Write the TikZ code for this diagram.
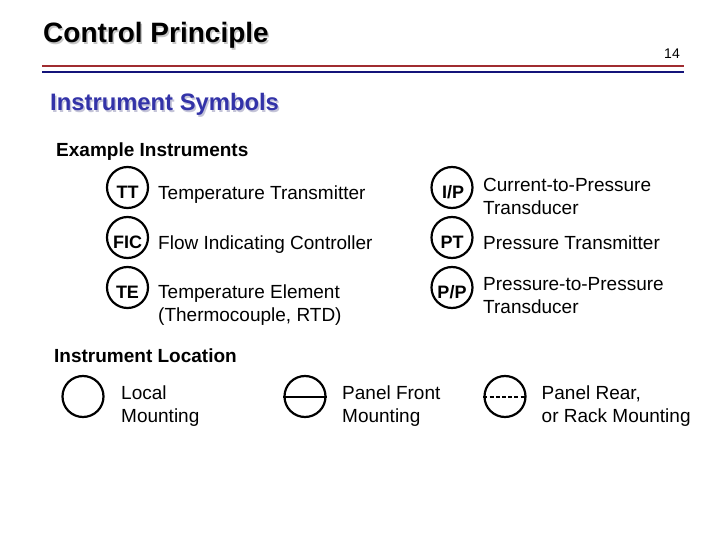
\documentclass[tikz,border=0pt]{standalone}
\usepackage{fontspec}
\setmainfont{Liberation Sans}
\definecolor{rulered}{HTML}{A02C30}
\definecolor{ruleblue}{HTML}{14147A}
\definecolor{headblue}{HTML}{3333A8}
\definecolor{headshadow}{HTML}{C4C4D8}
\tikzset{
  x=1pt,y=-1pt,
  instr/.style={circle,draw=black,line width=2.2pt,minimum size=41pt,inner sep=0pt},
  tagname/.style={inner sep=0pt,yshift=-4.5pt,font=\fontsize{18}{18}\selectfont\bfseries},
  lbl/.style={anchor=west,inner sep=0pt,align=left,font=\fontsize{19}{23}\selectfont},
  sub/.style={anchor=west,inner sep=0pt,font=\fontsize{19}{19}\selectfont\bfseries},
  barline/.style={line width=2pt}
}
\begin{document}
\begin{tikzpicture}
\useasboundingbox (0,0) rectangle (720,540);
% title
\node (titleshadow) [anchor=west,inner sep=0pt,text=gray!45,font=\fontsize{28}{28}\selectfont\bfseries] at (44.5,37) {Control Principle};
\node (title) [anchor=west,inner sep=0pt,font=\fontsize{28}{28}\selectfont\bfseries] at (43,35.5) {Control Principle};
\node (page) [anchor=east,inner sep=0pt,font=\fontsize{14}{14}\selectfont] at (680,54) {14};
\coordinate (ra) at (42,66); \coordinate (rb) at (684,66);
\coordinate (ba) at (42,72); \coordinate (bb) at (684,72);
\draw[rulered,line width=2pt] (ra) -- (rb);
\draw[ruleblue,line width=2pt] (ba) -- (bb);
\node (headshadow) [anchor=west,inner sep=0pt,text=headshadow,font=\fontsize{23.8}{24}\selectfont\bfseries] at (51.5,106) {Instrument Symbols};
\node (head) [anchor=west,inner sep=0pt,text=headblue,font=\fontsize{23.8}{24}\selectfont\bfseries] at (50,104.5) {Instrument Symbols};
\node (ex) [sub] at (56,151.5) {Example Instruments};
% left column
\node (tt) [instr] at (127.5,187.5) {};
\node (fic) [instr] at (127.5,237.5) {};
\node (te) [instr] at (127.5,287.5) {};
\node (tttag) [tagname] at (tt.center) {TT};
\node (fictag) [tagname] at (fic.center) {FIC};
\node (tetag) [tagname] at (te.center) {TE};
\node (ttl) [lbl] at (158,194.5) {Temperature Transmitter};
\node (ficl) [lbl] at (158,244.5) {Flow Indicating Controller};
\node (tel) [lbl] at (158,305.5) {Temperature Element\\(Thermocouple, RTD)};
% right column
\node (ip) [instr] at (452,187.5) {};
\node (pt) [instr] at (452,237.5) {};
\node (pp) [instr] at (452,287.5) {};
\node (iptag) [tagname,xshift=1pt] at (ip.center) {I/P};
\node (pttag) [tagname] at (pt.center) {PT};
\node (pptag) [tagname] at (pp.center) {P/P};
\node (ipl) [lbl] at (483,196.5) {Current-to-Pressure\\Transducer};
\node (ptl) [lbl] at (483,242.5) {Pressure Transmitter};
\node (ppl) [lbl] at (483,295.5) {Pressure-to-Pressure\\Transducer};
% location
\node (loc) [sub] at (54,356) {Instrument Location};
\node (local) [instr] at (83,396.5) {};
\node (front) [instr] at (305,396.5) {};
\node (rear) [instr] at (505,396.5) {};
\draw[barline] (front.west) -- (front.east);
\draw[barline,dash pattern=on 4pt off 2.2pt] (rear.west) -- (rear.east);
\node (locall) [lbl] at (121,406) {Local\\Mounting};
\node (frontl) [lbl] at (342,406) {Panel Front\\Mounting};
\node (rearl) [lbl] at (541.5,406) {Panel Rear,\\or Rack Mounting};
\end{tikzpicture}
\end{document}
